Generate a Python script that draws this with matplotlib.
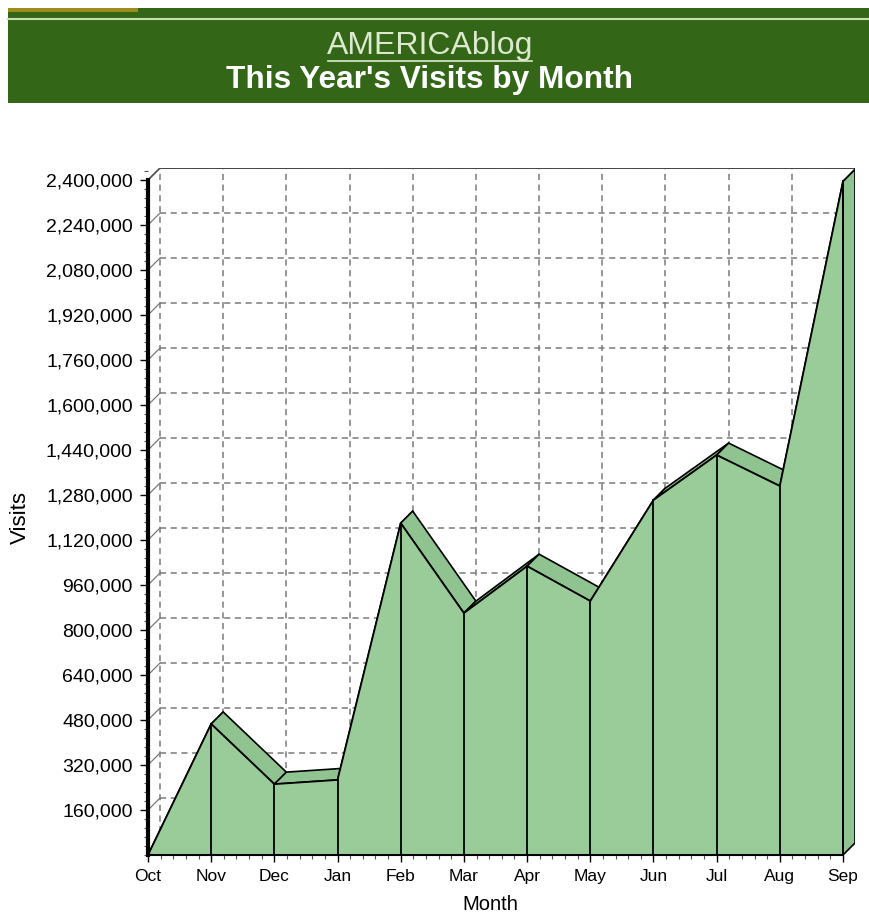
import matplotlib
matplotlib.use("Agg")
import matplotlib.pyplot as plt
from matplotlib.patches import Polygon, Rectangle
from matplotlib.ticker import MultipleLocator, FuncFormatter
from matplotlib.lines import Line2D

plt.rcParams['font.family'] = ['Liberation Sans', 'DejaVu Sans']

months = ["Oct", "Nov", "Dec", "Jan", "Feb", "Mar", "Apr", "May", "Jun", "Jul", "Aug", "Sep"]
visits = [0, 466000, 252000, 267000, 1180000, 860000, 1027000, 903000, 1262000, 1422000, 1312000, 2395000]
yticks = list(range(160000, 2400001, 160000))

W, H = 869, 913
fig = plt.figure(figsize=(W / 100, H / 100), dpi=100)

# header banner
fig.patches.append(Rectangle((8 / W, 1 - 103 / H), (W - 8) / W, 95 / H,
                             transform=fig.transFigure, facecolor="#336617", edgecolor="none"))
fig.patches.append(Rectangle((8 / W, 1 - 12 / H), 130 / W, 4 / H,
                             transform=fig.transFigure, facecolor="#9c8c1c", edgecolor="none"))
fig.lines.append(Line2D([8 / W, 1], [1 - 19 / H, 1 - 19 / H], transform=fig.transFigure,
                        color="#c9dcb4", lw=1.5))
fig.text(430 / W, 1 - 46 / H, "AMERICAblog", ha="center", va="center", fontsize=23,
         color="#dde9cf")
fig.lines.append(Line2D([328 / W, 532 / W], [1 - 61 / H, 1 - 61 / H], transform=fig.transFigure,
                        color="#dde9cf", lw=1.2))
fig.text(430 / W, 1 - 80 / H, "This Year's Visits by Month", ha="center", va="center",
         fontsize=22.8, fontweight="bold", color="white")

# plot area: x data 0..11 -> px 148..843, y 0..2.4M -> px 855..180
dx = 12 / 63.18
dy = 12 * 2400000 / 675
ax = fig.add_axes([148 / W, 58 / H, 707 / W, 687 / H])
ax.set_xlim(0, 11 + dx)
ax.set_ylim(0, 2400000 + dy)
ax.patch.set_alpha(0)

n = len(months)
top = 2400000
grid_kw = dict(color="#7a7a7a", lw=1.1, ls=(0, (4, 3)), zorder=1)

# back wall grid
for v in yticks:
    ax.plot([dx, n - 1 + dx], [v + dy, v + dy], **grid_kw)
    ax.plot([0, dx], [v, v + dy], color="#7a7a7a", lw=0.9, zorder=1)
for i in range(n):
    ax.plot([i + dx, i + dx], [dy, top + dy], **grid_kw)
ax.plot([dx, n - 1 + dx], [top + dy, top + dy], color="#444444", lw=1.4, zorder=1)
ax.plot([0, dx], [top, top + dy], color="#555555", lw=1.2, zorder=1)
ax.plot([n - 1 + dx, n - 1 + dx], [dy, top + dy], color="black", lw=2,
        ls=(0, (3, 2)), zorder=1.5)

# top faces of each segment
for i in range(n - 1):
    x0, x1 = i, i + 1
    y0, y1 = visits[i], visits[i + 1]
    ax.add_patch(Polygon([(x0, y0), (x1, y1), (x1 + dx, y1 + dy), (x0 + dx, y0 + dy)],
                         closed=True, facecolor="#8fc38f", edgecolor="black", lw=1.2,
                         zorder=2))

# right end face
last = visits[-1]
ax.add_patch(Polygon([(n - 1, 0), (n - 1, last), (n - 1 + dx, last + dy), (n - 1 + dx, dy)],
                     closed=True, facecolor="#8fc38f", edgecolor="black", lw=1.2, zorder=2))

# front face
xs = list(range(n))
front = [(0, 0)] + [(x, v) for x, v in zip(xs, visits)] + [(n - 1, 0)]
ax.add_patch(Polygon(front, closed=True, facecolor="#99cc99", edgecolor="black", lw=1.3,
                     zorder=3))
for x, v in zip(xs, visits):
    ax.plot([x, x], [0, v], color="black", lw=1.3, zorder=3.5)

# axes
for s in ["top", "right"]:
    ax.spines[s].set_visible(False)
ax.spines["left"].set_bounds(0, top)
ax.spines["left"].set_linewidth(3)
ax.spines["bottom"].set_bounds(0, n - 1)
ax.spines["bottom"].set_linewidth(1.5)
ax.spines["left"].set_zorder(5)
ax.spines["bottom"].set_zorder(5)

ax.set_xticks(xs)
ax.set_xticklabels(months)
ax.set_yticks(yticks)
ax.yaxis.set_major_formatter(FuncFormatter(lambda v, p: f"{int(v):,}"))
ax.xaxis.set_minor_locator(MultipleLocator(0.2))
ax.yaxis.set_minor_locator(MultipleLocator(32000))
ax.tick_params(axis="y", which="major", length=6, width=1, labelsize=14, pad=5)
ax.tick_params(axis="x", which="major", length=5, width=1, labelsize=12.5, pad=5)
ax.tick_params(which="minor", length=3, width=0.8, color="#555555")

fig.text(490 / W, 1 - 904 / H, "Month", ha="center", va="center", fontsize=14.5)
fig.text(20 / W, 1 - 517 / H, "Visits", ha="center", va="center", fontsize=16, rotation=90)

fig.savefig("out.png", dpi=100)
